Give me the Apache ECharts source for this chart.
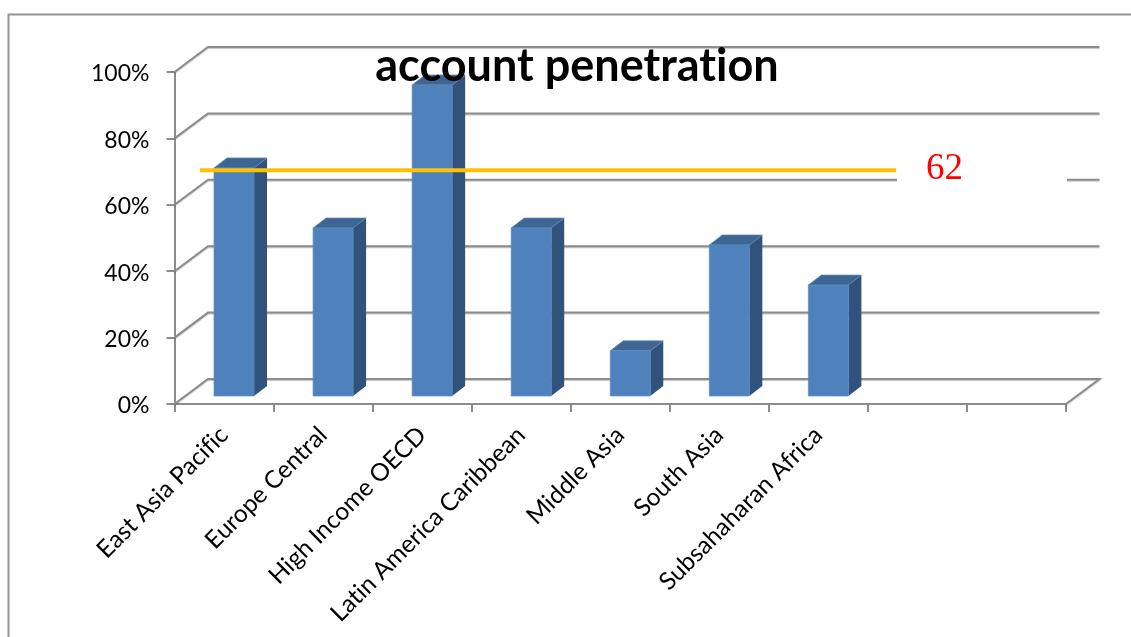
<!DOCTYPE html>
<html>
<head>
<meta charset="utf-8">
<style>html,body{margin:0;padding:0;background:#fff}#chart{width:1131px;height:637px}</style>
<script src="https://cdn.jsdelivr.net/npm/echarts@6/dist/echarts.min.js"></script>
</head>
<body>
<div id="chart"></div>
<script>
// Account penetration by region, drawn as a pseudo-3D column chart.
var categories = ['East Asia Pacific', 'Europe Central', 'High Income OECD', 'Latin America Caribbean',
  'Middle Asia', 'South Asia', 'Subsahaharan Africa', '', ''];
var penetration = [0.687, 0.506, 0.937, 0.506, 0.136, 0.455, 0.334];
var gridTicks = [0, 0.2, 0.4, 0.6, 0.8, 1];
var referenceValue = 0.62;
var referenceText = '62';
var titleText = 'account penetration';

var LEFT = 174.5, RIGHT = 1066, TOP = 72, BOTTOM = 404;
var WALL_DX = 33.5, WALL_DY = 25;     // depth of the floor from the front edge to the back wall
var BAR_DX = 10, BAR_DY = 8;          // how far the columns sit behind the front edge
var COL_DX = 13, COL_DY = 10;         // depth of a column
var GRAY = '#8c8c8c';
var sans = 'Lato, "Open Sans", sans-serif';

// A tiny letter spacing keeps the browser from forming fi/ti ligatures on the canvas.
var nativeFillText = CanvasRenderingContext2D.prototype.fillText;
CanvasRenderingContext2D.prototype.fillText = function () {
  this.letterSpacing = '0.01px';
  return nativeFillText.apply(this, arguments);
};

function wallLines(params, api) {
  var p = api.coord([0, api.value(1)]);
  var band = api.size([1, 0])[0];
  var x0 = p[0] - band / 2, y0 = p[1];
  var xEnd = x0 + band * categories.length;
  var pts = [[x0, y0], [x0 + WALL_DX, y0 - WALL_DY], [xEnd + WALL_DX, y0 - WALL_DY]];
  if (api.value(1) === 0) pts.push([xEnd, y0]);
  return {
    type: 'polyline',
    shape: { points: pts },
    style: { fill: null, stroke: GRAY, lineWidth: 2, shadowColor: 'rgba(0,0,0,0.22)', shadowBlur: 1, shadowOffsetY: 1 }
  };
}

function column(params, api) {
  var top = api.coord([api.value(0), api.value(1)]);
  var bottom = api.coord([api.value(0), 0]);
  var band = api.size([1, 0])[0];
  var w = band * 0.404;
  var x = top[0] + BAR_DX - w / 2, yT = top[1] - BAR_DY, yB = bottom[1] - BAR_DY;
  return {
    type: 'group',
    children: [
      { type: 'polygon', shape: { points: [[x + w, yT], [x + w + COL_DX, yT - COL_DY], [x + w + COL_DX, yB - COL_DY], [x + w, yB]] },
        style: { fill: '#31527a' } },
      { type: 'polygon', shape: { points: [[x, yT], [x + COL_DX, yT - COL_DY], [x + w + COL_DX, yT - COL_DY], [x + w, yT]] },
        style: { fill: '#3d6695', stroke: '#5f86b3', lineWidth: 0.7 } },
      { type: 'rect', shape: { x: x, y: yT, width: w, height: yB - yT },
        style: { fill: '#4f81bd', stroke: '#5f8dc6', lineWidth: 0.7 } }
    ]
  };
}

function referenceLine(params, api) {
  var p = api.coord([0, api.value(1)]);
  var band = api.size([1, 0])[0];
  var x0 = p[0] - band / 2;
  return {
    type: 'line',
    shape: { x1: x0 + band * 0.257, y1: p[1] - 28, x2: x0 + band * 7.285, y2: p[1] - 28 },
    style: { stroke: '#ffc000', lineWidth: 4 }
  };
}

var chart = echarts.init(document.getElementById('chart'), null, { renderer: 'canvas' });
chart.setOption({
  animation: false,
  backgroundColor: '#fff',
  title: {
    text: titleText, left: 572, top: 39, textAlign: 'center', z: 20,
    textStyle: { fontFamily: sans, fontWeight: 'bold', fontSize: 45, color: '#000' }
  },
  grid: { left: LEFT, top: TOP, width: RIGHT - LEFT, height: BOTTOM - TOP },
  xAxis: {
    type: 'category', data: categories, boundaryGap: true,
    axisLine: { lineStyle: { color: GRAY, width: 2 } },
    axisTick: { show: true, interval: 0, alignWithLabel: false, length: 8, lineStyle: { color: GRAY, width: 2 } },
    axisLabel: { interval: 0, rotate: 45, margin: 27, fontFamily: sans, fontSize: 24.5, color: '#000' },
    splitLine: { show: false }
  },
  yAxis: {
    type: 'value', min: 0, max: 1, interval: 0.2,
    axisLine: { show: true, lineStyle: { color: GRAY, width: 2 } },
    axisTick: { show: true, length: 8, lineStyle: { color: GRAY, width: 2 } },
    axisLabel: { margin: 25, verticalAlign: 'top', lineHeight: 4, fontFamily: sans, fontSize: 23, color: '#000',
      formatter: function (v) { return Math.round(v * 100) + '%'; } },
    splitLine: { show: false }
  },
  series: [
    { type: 'custom', renderItem: wallLines, z: 1, silent: true, clip: false,
      data: gridTicks.map(function (v) { return [0, v]; }), encode: { x: 0, y: 1 } },
    { type: 'custom', renderItem: column, z: 2, silent: true, clip: false,
      data: penetration.map(function (v, i) { return [i, v]; }), encode: { x: 0, y: 1 } },
    { type: 'custom', renderItem: referenceLine, z: 5, silent: true, clip: false,
      data: [[0, referenceValue]], encode: { x: 0, y: 1 } }
  ],
  graphic: [
    { type: 'rect', z: 3, silent: true, shape: { x: 897, y: 150, width: 170, height: 40 }, style: { fill: '#fff' } },
    { type: 'text', z: 6, silent: true, x: 926, y: 151,
      style: { text: referenceText, fontFamily: '"Liberation Serif", serif', fontSize: 37, fill: '#ff0000' } },
    { type: 'polyline', z: 6, silent: true, shape: { points: [[8.5, 640], [8.5, 14.5], [1135, 14.5]] },
      style: { fill: null, stroke: '#949494', lineWidth: 2 } }
  ]
});
</script>
</body>
</html>
